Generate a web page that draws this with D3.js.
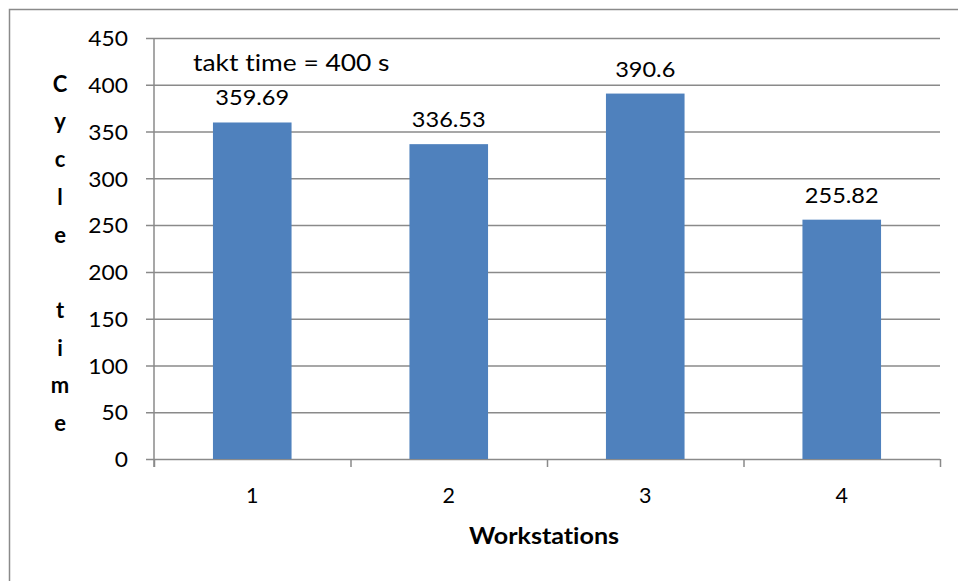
<!DOCTYPE html>
<html>
<head>
<meta charset="utf-8">
<script src="https://cdn.jsdelivr.net/npm/d3@7"></script>
<style>
  html, body { margin: 0; padding: 0; background: #fff; }
  svg { display: block; }
  text { font-family: "Lato", "Open Sans", sans-serif; fill: #000; font-variant-ligatures: none; }
</style>
</head>
<body>
<svg id="chart" width="958" height="581"></svg>
<script>
// ---- data ----
const categories = ["1", "2", "3", "4"];
const cycleTimes = [359.69, 336.53, 390.6, 255.82];
const valueLabels = ["359.69", "336.53", "390.6", "255.82"];
const yTicks = [0, 50, 100, 150, 200, 250, 300, 350, 400, 450];
const yTitleLetters = ["C", "y", "c", "l", "e", " ", "t", "i", "m", "e"];
const xTitle = "Workstations";
const annotation = "takt time = 400 s";

// ---- layout ----
const L = 154, R = 940, T = 38, B = 459;
const gridColor = "#8a8a8a";
const barColor = "#4f81bd";

const svg = d3.select("#chart");

// horizontal stretch of text about its anchor x
function stretch(sel, sx) {
  sel.each(function () {
    const t = d3.select(this);
    const ax = +(t.attr("x") || 0);
    t.attr("transform", `translate(${ax},0) scale(${sx},1) translate(${-ax},0)`);
  });
}

// outer border (extends past right/bottom edge)
svg.append("rect")
  .attr("x", 9.5).attr("y", 9.5)
  .attr("width", 1200).attr("height", 1200)
  .attr("fill", "none").attr("stroke", gridColor).attr("stroke-width", 1.5);

const y = d3.scaleLinear().domain([0, 450]).range([B, T]);
const x = d3.scaleBand().domain(categories).range([L, R]).paddingInner(0.6).paddingOuter(0.3);
const xb = d3.scaleLinear().domain([0, categories.length]).range([L, R]);

// gridlines + y labels
const gy = svg.append("g")
  .attr("transform", `translate(${L - 8},0)`)
  .call(d3.axisLeft(y).tickValues(yTicks).tickSize(-(R - L + 8)).tickPadding(18));
gy.select(".domain").remove();
gy.selectAll(".tick line").attr("stroke", gridColor).attr("stroke-width", 1.5);
gy.selectAll(".tick text").attr("font-size", 21.5).attr("font-family", "Lato").attr("dy", "0.36em");
stretch(gy.selectAll(".tick text"), 1.06);

// bars
svg.append("g").selectAll("rect")
  .data(cycleTimes)
  .join("rect")
  .attr("x", (d, i) => x(categories[i]))
  .attr("width", x.bandwidth())
  .attr("y", d => y(d))
  .attr("height", d => y(0) - y(d))
  .attr("fill", barColor);

// vertical axis line
svg.append("line")
  .attr("x1", L).attr("x2", L).attr("y1", T).attr("y2", B + 8)
  .attr("stroke", gridColor).attr("stroke-width", 1.5);

// category boundary ticks
const gtick = svg.append("g")
  .attr("transform", `translate(0,${B})`)
  .call(d3.axisBottom(xb).tickValues(d3.range(categories.length + 1)).tickSize(8).tickFormat(""));
gtick.select(".domain").remove();
gtick.selectAll(".tick line").attr("stroke", gridColor).attr("stroke-width", 1.5);

// category labels
const gx = svg.append("g")
  .attr("transform", `translate(0,${B})`)
  .call(d3.axisBottom(x).tickSize(0).tickPadding(29));
gx.select(".domain").remove();
gx.selectAll(".tick text").attr("font-size", 21.5).attr("font-family", "Lato");

// value labels
const vl = svg.append("g").selectAll("text")
  .data(cycleTimes)
  .join("text")
  .attr("x", (d, i) => x(categories[i]) + x.bandwidth() / 2)
  .attr("y", d => y(d) - 17)
  .attr("text-anchor", "middle")
  .attr("font-size", 22)
  .text((d, i) => valueLabels[i]);
stretch(vl, 1.07);

// annotation
const ann = svg.append("text")
  .attr("x", 193).attr("y", 71)
  .attr("font-size", 24)
  .text(annotation);
stretch(ann, 1.1);

// x title
const xt = svg.append("text")
  .attr("x", 544).attr("y", 544)
  .attr("text-anchor", "middle")
  .attr("font-size", 22).attr("font-weight", "bold")
  .text(xTitle);
stretch(xt, 1.14);

// y title, one letter per line
svg.append("g").selectAll("text")
  .data(yTitleLetters)
  .join("text")
  .attr("x", 60)
  .attr("y", (d, i) => 84 + i * 37.7)
  .attr("dy", "0.35em")
  .attr("text-anchor", "middle")
  .attr("font-size", 22).attr("font-weight", "bold")
  .text(d => d);
</script>
</body>
</html>
